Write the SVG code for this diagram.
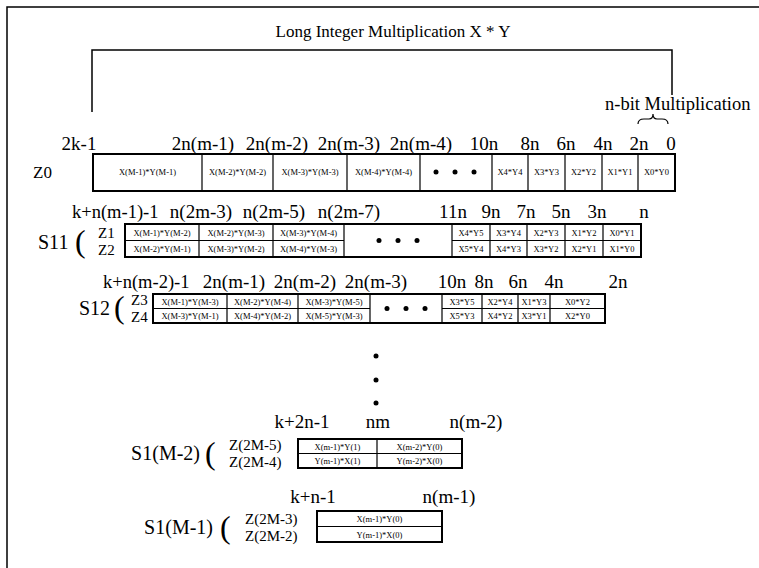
<svg xmlns="http://www.w3.org/2000/svg" width="759" height="568" viewBox="0 0 759 568" font-family="'Liberation Serif', 'DejaVu Serif', serif">
<style>
text{font-family:'Liberation Serif','DejaVu Serif',serif;fill:#000}
.lbl{font-size:19px;text-anchor:middle}
.z{font-size:15px}
.s{font-size:20px}
.par{font-size:32px}
.c{font-size:8.5px;text-anchor:middle}
.box{fill:#fff;stroke:#000;stroke-width:2}
.div{stroke:#000;stroke-width:1.2;fill:none}
.ln{stroke:#000;stroke-width:1.5;fill:none}
</style>
<rect width="759" height="568" fill="#fff"/>
<g id="frame">
<path class="ln" d="M7,568 V7 H759"/>
</g>
<g id="title">
<text x="393" y="37" style="font-size:17px;text-anchor:middle">Long Integer Multiplication X * Y</text>
</g>
<g id="connectors">
<path class="ln" d="M92,112 V50 H672 V95"/>
<path class="div" d="M638,124 Q638,119 644,119 L649,119 Q653,119 653,114 Q653,119 657,119 L662,119 Q668,119 668,124"/>
</g>
<g id="nbit">
<text x="605" y="110" style="font-size:18.5px">n-bit Multiplication</text>
</g>
<g id="Z0">
<text class="lbl" x="79" y="150">2k-1</text>
<text class="lbl" x="203" y="150">2n(m-1)</text>
<text class="lbl" x="277" y="150">2n(m-2)</text>
<text class="lbl" x="349" y="150">2n(m-3)</text>
<text class="lbl" x="421" y="150">2n(m-4)</text>
<text class="lbl" x="484" y="150">10n</text>
<text class="lbl" x="530" y="150">8n</text>
<text class="lbl" x="566" y="150">6n</text>
<text class="lbl" x="603" y="150">4n</text>
<text class="lbl" x="639" y="150">2n</text>
<text class="lbl" x="671" y="150">0</text>
<text x="33" y="178" style="font-size:17px">Z0</text>
<rect class="box" x="93" y="154" width="582" height="37"/>
<path class="div" d="M202,154V191M273,154V191M347,154V191M420,154V191M492,154V191M528,154V191M565,154V191M602,154V191M638,154V191"/>
<text class="c" x="147.5" y="175">X(M-1)*Y(M-1)</text>
<text class="c" x="237.5" y="175">X(M-2)*Y(M-2)</text>
<text class="c" x="310" y="175">X(M-3)*Y(M-3)</text>
<text class="c" x="383.5" y="175">X(M-4)*Y(M-4)</text>
<circle cx="436" cy="172" r="2.5" fill="#000"/><circle cx="455" cy="172" r="2.5" fill="#000"/><circle cx="474" cy="172" r="2.5" fill="#000"/>
<text class="c" x="510" y="175">X4*Y4</text>
<text class="c" x="546.5" y="175">X3*Y3</text>
<text class="c" x="583.5" y="175">X2*Y2</text>
<text class="c" x="620" y="175">X1*Y1</text>
<text class="c" x="656.5" y="175">X0*Y0</text>
</g>
<g id="S11">
<text x="72" y="218" style="font-size:18.5px">k+n(m-1)-1</text>
<text class="lbl" x="201" y="218">n(2m-3)</text>
<text class="lbl" x="274" y="218">n(2m-5)</text>
<text class="lbl" x="349" y="218">n(2m-7)</text>
<text class="lbl" x="453" y="218">11n</text>
<text class="lbl" x="491" y="218">9n</text>
<text class="lbl" x="526" y="218">7n</text>
<text class="lbl" x="561" y="218">5n</text>
<text class="lbl" x="597" y="218">3n</text>
<text class="lbl" x="644" y="218">n</text>
<text class="s" x="38" y="249">S11</text>
<text class="par" x="75" y="252">(</text>
<text class="z" x="98" y="238">Z1</text>
<text class="z" x="98" y="255">Z2</text>
<rect class="box" x="125" y="224" width="516" height="33"/>
<path class="div" d="M125,240.5H344M452,240.5H641M199,224V257M273,224V257M344,224V257M452,224V257M490,224V257M527,224V257M565,224V257M603,224V257"/>
<text class="c" x="162" y="235.5">X(M-1)*Y(M-2)</text>
<text class="c" x="236" y="235.5">X(M-2)*Y(M-3)</text>
<text class="c" x="308.5" y="235.5">X(M-3)*Y(M-4)</text>
<text class="c" x="162" y="252">X(M-2)*Y(M-1)</text>
<text class="c" x="236" y="252">X(M-3)*Y(M-2)</text>
<text class="c" x="308.5" y="252">X(M-4)*Y(M-3)</text>
<circle cx="379" cy="240.5" r="2.5" fill="#000"/><circle cx="398" cy="240.5" r="2.5" fill="#000"/><circle cx="417" cy="240.5" r="2.5" fill="#000"/>
<text class="c" x="471" y="235.5">X4*Y5</text>
<text class="c" x="508.5" y="235.5">X3*Y4</text>
<text class="c" x="546" y="235.5">X2*Y3</text>
<text class="c" x="584" y="235.5">X1*Y2</text>
<text class="c" x="622" y="235.5">X0*Y1</text>
<text class="c" x="471" y="252">X5*Y4</text>
<text class="c" x="508.5" y="252">X4*Y3</text>
<text class="c" x="546" y="252">X3*Y2</text>
<text class="c" x="584" y="252">X2*Y1</text>
<text class="c" x="622" y="252">X1*Y0</text>
</g>
<g id="S12">
<text x="103" y="288" style="font-size:18.5px">k+n(m-2)-1</text>
<text class="lbl" x="234" y="288">2n(m-1)</text>
<text class="lbl" x="305" y="288">2n(m-2)</text>
<text class="lbl" x="376" y="288">2n(m-3)</text>
<text class="lbl" x="452" y="288">10n</text>
<text class="lbl" x="484" y="288">8n</text>
<text class="lbl" x="518" y="288">6n</text>
<text class="lbl" x="554" y="288">4n</text>
<text class="lbl" x="618" y="288">2n</text>
<text class="s" x="79" y="315">S12</text>
<text class="par" x="114" y="318">(</text>
<text class="z" x="131" y="305">Z3</text>
<text class="z" x="131" y="322">Z4</text>
<rect class="box" x="153" y="294" width="452" height="29"/>
<path class="div" d="M153,308.5H370M442,308.5H605M227,294V323M298,294V323M370,294V323M442,294V323M482,294V323M518,294V323M550,294V323"/>
<text class="c" x="190" y="304.5">X(M-1)*Y(M-3)</text>
<text class="c" x="262.5" y="304.5">X(M-2)*Y(M-4)</text>
<text class="c" x="334" y="304.5">X(M-3)*Y(M-5)</text>
<text class="c" x="190" y="319">X(M-3)*Y(M-1)</text>
<text class="c" x="262.5" y="319">X(M-4)*Y(M-2)</text>
<text class="c" x="334" y="319">X(M-5)*Y(M-3)</text>
<circle cx="387" cy="308.5" r="2.5" fill="#000"/><circle cx="406" cy="308.5" r="2.5" fill="#000"/><circle cx="425" cy="308.5" r="2.5" fill="#000"/>
<text class="c" x="462" y="304.5">X3*Y5</text>
<text class="c" x="500" y="304.5">X2*Y4</text>
<text class="c" x="534" y="304.5">X1*Y3</text>
<text class="c" x="577.5" y="304.5">X0*Y2</text>
<text class="c" x="462" y="319">X5*Y3</text>
<text class="c" x="500" y="319">X4*Y2</text>
<text class="c" x="534" y="319">X3*Y1</text>
<text class="c" x="577.5" y="319">X2*Y0</text>
</g>
<g id="vdots">
<circle cx="376" cy="356" r="2.5" fill="#000"/>
<circle cx="376" cy="380" r="2.5" fill="#000"/>
<circle cx="376" cy="403" r="2.5" fill="#000"/>
</g>
<g id="S1M-2">
<text class="lbl" x="302" y="428">k+2n-1</text>
<text class="lbl" x="378" y="428">nm</text>
<text class="lbl" x="476" y="428">n(m-2)</text>
<text class="s" x="200" y="460" style="text-anchor:end">S1(M-2)</text>
<text class="par" x="205" y="464">(</text>
<text class="z" x="229" y="450">Z(2M-5)</text>
<text class="z" x="229" y="467">Z(2M-4)</text>
<rect class="box" x="298" y="439" width="164" height="29"/>
<path class="div" d="M298,453.5H462M377,439V468"/>
<text class="c" x="337.5" y="449.5">X(m-1)*Y(1)</text>
<text class="c" x="419.5" y="449.5">X(m-2)*Y(0)</text>
<text class="c" x="337.5" y="464">Y(m-1)*X(1)</text>
<text class="c" x="419.5" y="464">Y(m-2)*X(0)</text>
</g>
<g id="S1M-1">
<text class="lbl" x="313" y="503">k+n-1</text>
<text class="lbl" x="449" y="503">n(m-1)</text>
<text class="s" x="213" y="534" style="text-anchor:end">S1(M-1)</text>
<text class="par" x="220" y="538">(</text>
<text class="z" x="245" y="524">Z(2M-3)</text>
<text class="z" x="245" y="541">Z(2M-2)</text>
<rect class="box" x="317" y="511" width="125" height="31"/>
<path class="div" d="M317,526.5H442"/>
<text class="c" x="379.5" y="522">X(m-1)*Y(0)</text>
<text class="c" x="379.5" y="537.5">Y(m-1)*X(0)</text>
</g>
</svg>
